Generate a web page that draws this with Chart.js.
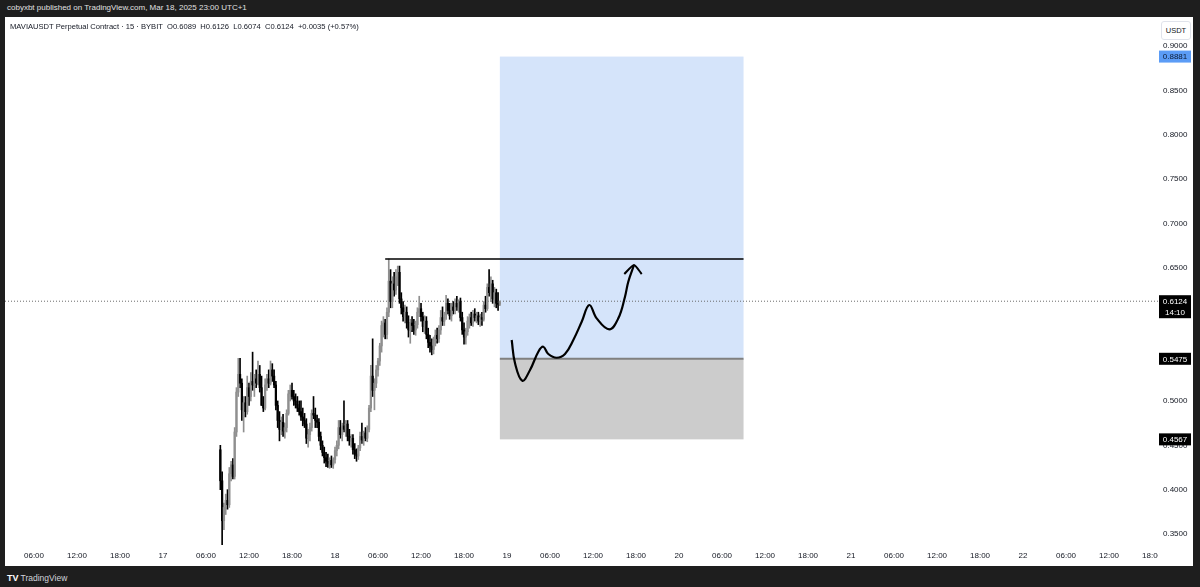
<!DOCTYPE html>
<html lang="en">
<head>
  <meta charset="UTF-8" />
  <title>MAVIAUSDT 15m</title>
  <script src="https://cdn.jsdelivr.net/npm/chart.js"></script>
  <style>
    body {
      margin: 0;
      width: 1200px;
      height: 587px;
      overflow: hidden;
      position: relative;
      background: #1e1e1e;
      font-family: "Liberation Sans", Arial, sans-serif;
    }
    .top-bar {
      position: absolute;
      left: 7px;
      top: 3px;
      font-size: 8px;
      color: #e0e0e0;
    }
    .panel {
      position: absolute;
      left: 5px;
      top: 17px;
      width: 1188px;
      height: 549px;
      background: #fff;
    }
    .legend {
      position: absolute;
      left: 5px;
      top: 5px;
      font-size: 7.6px;
      color: #131722;
      white-space: pre;
    }
    .unit {
      position: absolute;
      left: 1156px;
      top: 4px;
      width: 28px;
      height: 17px;
      border: 1px solid #e0e3eb;
      border-radius: 3px;
      font-size: 7.5px;
      line-height: 17px;
      text-align: center;
      color: #131722;
      background: #fff;
    }
    .footer {
      position: absolute;
      left: 7px;
      top: 573px;
      font-size: 8.5px;
      color: #d1d4dc;
    }
    .footer b { font-size: 9px; color: #fff; margin-right: 2px; }
  </style>
</head>
<body>
  <div class="top-bar">cobyxbt published on TradingView.com, Mar 18, 2025 23:00 UTC+1</div>
  <div class="panel">
    <canvas id="chart" width="1188" height="549"></canvas>
    <div class="legend">MAVIAUSDT Perpetual Contract · 15 · BYBIT  O0.6089  H0.6126  L0.6074  C0.6124  +0.0035 (+0.57%)</div>
    <div class="unit">USDT</div>
  </div>
  <div class="footer"><b>TV</b>TradingView</div>

  <script>
    // 15m candles, first one opens 17 Mar 08:00 (hours counted from 16 Mar 00:00)
    const firstHour = 32;
    const candleStep = 0.25;
    const firstOpen = 0.445;

    const closes = [
      .410, .365, .380, .388, .383, .418, .428, .415, .465, .510,
      .530, .520, .490, .498, .488, .515, .505, .522, .518, .525,
      .520, .530, .515, .495, .492, .518, .525, .520, .535, .528,
      .518, .495, .478, .468, .476, .466, .470, .486, .508, .512,
      .505, .500, .496, .492, .488, .482, .478, .474, .458, .462,
      .470, .486, .484, .478, .476, .460, .450, .442, .436, .432,
      .430, .433, .428, .434, .444, .450, .470, .462, .472, .468,
      .474, .460, .455, .458, .445, .440, .438, .447, .460, .456,
      .464, .458, .468, .492, .528, .512, .520, .535, .545, .562,
      .585, .588, .575, .600, .635, .612, .632, .625, .640, .645,
      .615, .605, .595, .600, .588, .580, .588, .585, .580, .586,
      .600, .604, .595, .584, .590, .575, .566, .562, .558, .568,
      .574, .570, .580, .594, .590, .597, .610, .602, .596, .606,
      .602, .610, .606, .612, .594, .580, .572, .578, .590, .594,
      .588, .598, .594, .596, .590, .594, .592, .608, .604, .628,
      .622, .632, .615, .622, .610, .6089, .6124
    ];
    const highs = [
      .450, .420, .385, .395, .400, .425, .432, .435, .470, .515,
      .548, .548, .525, .505, .505, .528, .520, .532, .555, .530,
      .535, .545, .540, .528, .505, .525, .530, .535, .545, .542,
      .535, .522, .500, .488, .482, .485, .475, .490, .512, .518,
      .520, .512, .508, .505, .500, .500, .492, .486, .480, .468,
      .475, .490, .505, .492, .484, .480, .465, .455, .448, .442,
      .440, .436, .438, .436, .448, .455, .478, .478, .475, .500,
      .478, .478, .468, .462, .462, .452, .446, .450, .465, .475,
      .466, .470, .472, .495, .540, .570, .525, .540, .548, .565,
      .590, .595, .592, .605, .660, .648, .640, .645, .648, .652,
      .652, .622, .612, .608, .606, .596, .592, .595, .592, .590,
      .605, .618, .610, .600, .596, .595, .582, .574, .570, .572,
      .580, .582, .585, .602, .606, .600, .619, .615, .610, .610,
      .612, .615, .618, .614, .616, .600, .588, .582, .595, .598,
      .600, .602, .604, .600, .600, .598, .600, .612, .618, .632,
      .648, .640, .636, .628, .626, .622, .6126
    ];
    const lows = [
      .400, .338, .355, .372, .378, .380, .410, .412, .412, .460,
      .505, .515, .478, .465, .482, .485, .495, .500, .512, .505,
      .515, .518, .510, .495, .488, .490, .512, .515, .518, .522,
      .515, .490, .470, .455, .462, .460, .458, .465, .484, .500,
      .502, .495, .492, .488, .484, .478, .472, .470, .452, .448,
      .455, .466, .480, .470, .470, .455, .445, .438, .430, .426,
      .425, .424, .425, .424, .430, .438, .446, .458, .455, .465,
      .460, .455, .450, .448, .440, .435, .432, .434, .444, .452,
      .450, .455, .454, .465, .488, .505, .490, .515, .528, .540,
      .555, .572, .570, .570, .595, .605, .605, .618, .620, .630,
      .610, .598, .590, .588, .582, .572, .565, .578, .575, .574,
      .582, .595, .590, .578, .576, .570, .560, .555, .552, .553,
      .562, .565, .566, .575, .585, .585, .592, .598, .592, .590,
      .598, .598, .602, .600, .590, .575, .564, .564, .574, .582,
      .585, .584, .590, .588, .586, .584, .585, .590, .600, .602,
      .618, .612, .610, .606, .605, .602, .6074
    ];

    // hand drawn path and arrow head (hours, price)
    const sketchHours  = [72.65, 73.11, 74.13, 75.21, 76.37, 77.06, 77.76, 78.93, 80.09, 81.25, 82.42, 83.48, 84.51, 86.27, 87.53, 88.46, 88.92, 89.72];
    const sketchPrices = [0.5687, 0.5427, 0.5228, 0.5349, 0.5555, 0.5611, 0.5529, 0.5487, 0.5529, 0.5687, 0.5893, 0.6081, 0.5931, 0.5807, 0.5931, 0.6175, 0.6344, 0.6532];
    const arrowHours  = [88.36, 89.72, 90.79];
    const arrowPrices = [0.6430, 0.6532, 0.6430];

    // resistance line and long position tool
    const resistance = 0.660;
    const resistanceFrom = 55;
    const posStart = 71;
    const posEnd = 105;
    const posTarget = 0.8881;
    const posEntry = 0.5475;
    const posStop = 0.4567;
    const lastClose = 0.6124;
    const countdown = "14:10";

    const timeTicks = [6, 12, 18, 24, 30, 36, 42, 48, 54, 60, 66, 72, 78, 84, 90, 96, 102, 108, 114, 120, 126, 132, 138, 144, 150, 156, 162];
    const priceTicks = [0.35, 0.40, 0.45, 0.50, 0.55, 0.60, 0.65, 0.70, 0.75, 0.80, 0.85, 0.90];
    const xMin = 1.953, xMax = 162.83;
    const yMin = 0.3354, yMax = 0.9327;

    const upColor = "#8f8f8f";
    const downColor = "#000000";

    const bodies = [], wicks = [], colors = [];
    closes.forEach((c, i) => {
      const o = i === 0 ? firstOpen : closes[i - 1];
      const t = firstHour + i * candleStep;
      bodies.push({ x: t, y: [o, c] });
      wicks.push({ x: t, y: [lows[i], highs[i]] });
      colors.push(c >= o ? upColor : downColor);
    });

    const pts = (xs, ys) => xs.map((x, i) => ({ x: x, y: ys[i] }));
    const font = { family: "Liberation Sans", size: 8 };

    function tag(ctx, area, yPix, bg, fg, lines) {
      const left = area.right + 1, w = 32, h = 12;
      ctx.fillStyle = bg;
      ctx.fillRect(left, yPix - h / 2, w, h * lines.length - (lines.length > 1 ? 1 : 0));
      ctx.fillStyle = fg;
      ctx.font = '8px "Liberation Sans"';
      ctx.textAlign = "center";
      ctx.textBaseline = "middle";
      lines.forEach((t, i) => ctx.fillText(t, left + w / 2, yPix + i * 11 + 0.5));
    }

    const overlay = {
      id: "overlay",
      beforeDatasetsDraw(chart) {
        const { ctx, scales: { x, y } } = chart;
        const x0 = x.getPixelForValue(posStart), x1 = x.getPixelForValue(posEnd);
        const yT = y.getPixelForValue(posTarget), yE = y.getPixelForValue(posEntry), yS = y.getPixelForValue(posStop);
        ctx.save();
        ctx.fillStyle = "rgb(213, 228, 250)";
        ctx.fillRect(x0, yT, x1 - x0, yE - yT);
        ctx.fillStyle = "#cccccc";
        ctx.fillRect(x0, yE, x1 - x0, yS - yE);
        ctx.strokeStyle = "#808080";
        ctx.lineWidth = 2;
        ctx.beginPath();
        ctx.moveTo(x0, yE);
        ctx.lineTo(x1, yE);
        ctx.stroke();
        ctx.restore();
      },
      afterDraw(chart) {
        const { ctx, chartArea, scales: { y } } = chart;
        ctx.save();
        // time labels stop at the price scale, like the original
        ctx.fillStyle = "#fff";
        ctx.fillRect(chartArea.right, chartArea.bottom, chart.width - chartArea.right, chart.height - chartArea.bottom);
        tag(ctx, chartArea, y.getPixelForValue(posTarget), "#5b9cf6", "#0c1a33", [posTarget.toFixed(4)]);
        tag(ctx, chartArea, y.getPixelForValue(posEntry), "#000", "#fff", [posEntry.toFixed(4)]);
        tag(ctx, chartArea, y.getPixelForValue(posStop), "#000", "#fff", [posStop.toFixed(4)]);
        tag(ctx, chartArea, y.getPixelForValue(lastClose), "#000", "#fff", [lastClose.toFixed(4), countdown]);
        ctx.restore();
      }
    };

    new Chart(document.getElementById("chart"), {
      type: "bar",
      data: {
        datasets: [
          {
            type: "line", data: pts(sketchHours, sketchPrices), borderColor: "#000",
            borderWidth: 2.2, tension: 0.4, pointRadius: 0, order: 0
          },
          {
            type: "line", data: pts(arrowHours, arrowPrices), borderColor: "#000",
            borderWidth: 2, tension: 0.2, pointRadius: 0, order: 0
          },
          {
            type: "line", data: [{ x: resistanceFrom, y: resistance }, { x: posEnd, y: resistance }],
            borderColor: "#000", borderWidth: 1.5, pointRadius: 0, order: 1
          },
          {
            data: bodies, backgroundColor: colors, barThickness: 1.6,
            minBarLength: 1, grouped: false, order: 2
          },
          {
            data: wicks, backgroundColor: colors, barThickness: 1,
            grouped: false, order: 3
          },
          {
            type: "line", data: [{ x: xMin, y: lastClose }, { x: xMax, y: lastClose }],
            borderColor: "#6a6a6a", borderWidth: 1, borderDash: [1, 2], pointRadius: 0, order: 4
          }
        ]
      },
      options: {
        responsive: false,
        animation: false,
        devicePixelRatio: 1,
        layout: { padding: 0 },
        plugins: { legend: { display: false }, tooltip: { enabled: false } },
        scales: {
          x: {
            type: "linear",
            min: xMin,
            max: xMax,
            offset: false,
            grid: { display: false, drawTicks: false },
            border: { display: false },
            afterBuildTicks: s => { s.ticks = timeTicks.map(v => ({ value: v })); },
            afterFit: s => { s.height = 19; s.paddingLeft = 0; s.paddingRight = 0; },
            ticks: {
              font: font,
              color: "#131722",
              padding: 4,
              maxRotation: 0,
              autoSkip: false,
              callback: v => v % 24 === 0 ? String(16 + v / 24) : String(v % 24).padStart(2, "0") + ":00"
            }
          },
          y: {
            position: "right",
            min: yMin,
            max: yMax,
            grid: { display: false, drawTicks: false },
            border: { display: false },
            afterBuildTicks: s => { s.ticks = priceTicks.map(v => ({ value: v })); },
            afterFit: s => { s.width = 35; s.paddingTop = 0; s.paddingBottom = 0; },
            ticks: {
              font: font,
              color: "#131722",
              padding: 5,
              callback: v => v.toFixed(4)
            }
          }
        }
      },
      plugins: [overlay]
    });
  </script>
</body>
</html>
